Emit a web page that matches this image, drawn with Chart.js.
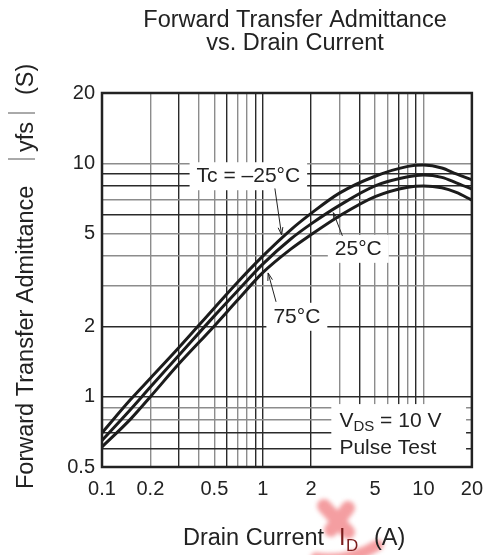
<!DOCTYPE html>
<html lang="en">
<head>
<meta charset="UTF-8">
<title>Forward Transfer Admittance vs. Drain Current</title>
<style>
  body { margin: 0; background: #fff; }
  #wrap { width: 493px; height: 555px; position: relative; }
</style>
</head>
<body>
<div id="wrap"><canvas id="chart"></canvas></div>
<script src="https://cdn.jsdelivr.net/npm/chart.js"></script>
<script>
// Drain current I_D (A) and |yfs| (S) for each case temperature
const currentA    = [0.1, 0.15, 0.2, 0.3, 0.5, 0.7, 1, 1.5, 2, 3, 5, 8, 10, 13, 16, 20];
const yfsMinus25  = [0.70, 0.97, 1.2, 1.62, 2.4, 3.1, 4.0, 5.2, 6.1, 7.45, 8.8, 9.7, 9.82, 9.55, 9.0, 8.5];
const yfs25       = [0.65, 0.88, 1.1, 1.5, 2.22, 2.85, 3.7, 4.75, 5.5, 6.6, 8.0, 8.75, 8.9, 8.7, 8.25, 7.75];
const yfs75       = [0.61, 0.80, 1.0, 1.38, 2.01, 2.6, 3.4, 4.3, 4.95, 5.95, 7.2, 7.9, 8.0, 7.85, 7.5, 6.95];

// axis grid values and which of them carry a label
const xGrid   = [0.1, 0.2, 0.3, 0.4, 0.5, 0.6, 0.7, 0.8, 0.9, 1, 2, 3, 4, 5, 6, 7, 8, 9, 10, 20];
const xLabels = [0.1, 0.2, 0.5, 1, 2, 5, 10, 20];
const yGrid   = [0.5, 0.6, 0.7, 0.8, 0.9, 1, 2, 3, 4, 5, 6, 7, 8, 9, 10, 20];
const yLabels = [0.5, 1, 2, 5, 10, 20];

// grid lines printed darker in the datasheet
const xDark = [0.3, 0.6, 0.9, 1, 2, 4, 7, 9];
const yDark = [0.6, 0.7, 1, 2, 6, 8, 9];

// curve labels: text position and arrow (data coordinates)
const curveNotes = [
    { text: 'Tc = \u201325\u00b0C', x: 0.814, y: 8.8, from: [1.19, 7.8], to: [1.31, 4.93] },
    { text: '25\u00b0C', x: 3.93, y: 4.3, from: [3.13, 4.89], to: [2.75, 6.14] },
    { text: '75\u00b0C', x: 1.63, y: 2.2, from: [1.21, 2.55], to: [1.08, 3.39] }
];

const FONT = '"Liberation Sans", Arial, Helvetica, sans-serif';
const INK = '#222';

function pts(ys) {
    return currentA.map((x, i) => ({ x: x, y: ys[i] }));
}

function arrow(ctx, x1, y1, x2, y2) {
    ctx.beginPath();
    ctx.moveTo(x1, y1);
    ctx.lineTo(x2, y2);
    ctx.stroke();
    const a = Math.atan2(y2 - y1, x2 - x1);
    const len = 8;
    ctx.beginPath();
    ctx.moveTo(x2 - len * Math.cos(a - 0.3), y2 - len * Math.sin(a - 0.3));
    ctx.lineTo(x2, y2);
    ctx.lineTo(x2 - len * Math.cos(a + 0.3), y2 - len * Math.sin(a + 0.3));
    ctx.stroke();
}

const sheetText = {
    id: 'sheetText',
    beforeDatasetsDraw(chart) {
        const { ctx, scales: { x, y }, chartArea } = chart;
        ctx.save();
        ctx.font = '21px ' + FONT;
        // white label boxes cover the grid
        ctx.fillStyle = '#fff';
        curveNotes.forEach(n => {
            const w = ctx.measureText(n.text).width;
            const cx = x.getPixelForValue(n.x), cy = y.getPixelForValue(n.y);
            ctx.fillRect(cx - w / 2 - 7, cy - 14, w + 14, 28);
        });
        const bx = x.getPixelForValue(2.67), by = y.getPixelForValue(0.93);
        ctx.fillRect(bx, by, x.getPixelForValue(18.4) - bx, chartArea.bottom - by);
        ctx.restore();
    },
    afterDatasetsDraw(chart) {
        const { ctx, scales: { x, y }, chartArea } = chart;
        ctx.save();
        ctx.fillStyle = INK;
        ctx.strokeStyle = INK;
        ctx.textBaseline = 'middle';
        ctx.textAlign = 'center';
        ctx.font = '21px ' + FONT;
        ctx.lineWidth = 1;
        curveNotes.forEach(n => {
            ctx.fillText(n.text, x.getPixelForValue(n.x), y.getPixelForValue(n.y));
            arrow(ctx, x.getPixelForValue(n.from[0]), y.getPixelForValue(n.from[1]),
                       x.getPixelForValue(n.to[0]), y.getPixelForValue(n.to[1]));
        });

        // test condition box
        ctx.textAlign = 'left';
        let tx = x.getPixelForValue(3.0), ty = y.getPixelForValue(0.787);
        ctx.fillText('V', tx, ty);
        tx += ctx.measureText('V').width;
        ctx.font = '15px ' + FONT;
        ctx.fillText('DS', tx, ty + 6);
        tx += ctx.measureText('DS').width;
        ctx.font = '21px ' + FONT;
        ctx.fillText(' = 10 V', tx, ty);
        ctx.fillText('Pulse Test', x.getPixelForValue(3.0), y.getPixelForValue(0.603));

        // frame
        ctx.lineWidth = 2.5;
        ctx.strokeRect(chartArea.left, chartArea.top, chartArea.right - chartArea.left, chartArea.bottom - chartArea.top);
        ctx.restore();
    },
    afterDraw(chart) {
        const { ctx } = chart;
        ctx.save();

        // pink stamp mark under the axis title
        ctx.save();
        ctx.filter = 'blur(2px)';
        ctx.strokeStyle = 'rgba(240, 125, 130, 0.75)';
        ctx.lineCap = 'round';
        ctx.lineWidth = 14;
        ctx.beginPath();
        ctx.moveTo(324, 506);
        ctx.lineTo(348, 532);
        ctx.moveTo(348, 508);
        ctx.lineTo(331, 530);
        ctx.stroke();
        ctx.lineWidth = 11;
        ctx.beginPath();
        ctx.moveTo(316, 558);
        ctx.quadraticCurveTo(348, 563, 378, 545);
        ctx.stroke();
        ctx.restore();

        ctx.fillStyle = INK;
        ctx.textBaseline = 'alphabetic';
        ctx.font = '23.5px ' + FONT;

        // title
        ctx.textAlign = 'center';
        ctx.fillText('Forward Transfer Admittance', 295, 27);
        ctx.fillText('vs. Drain Current', 295, 50);

        // x axis title
        ctx.textAlign = 'left';
        ctx.fillText('Drain Current', 183, 545);
        ctx.fillText('(A)', 374, 545);
        ctx.fillStyle = '#7a1c1c';
        ctx.fillText('I', 339, 545);
        ctx.font = '17px ' + FONT;
        ctx.fillText('D', 346, 551);
        ctx.fillStyle = INK;
        ctx.font = '23.5px ' + FONT;

        // y axis title, rotated
        ctx.translate(33, 0);
        ctx.rotate(-Math.PI / 2);
        ctx.fillText('Forward Transfer Admittance', -489, 0);
        ctx.fillText('yfs', -152, 0);
        ctx.fillText('(S)', -95, 0);
        ctx.strokeStyle = '#555';
        ctx.lineWidth = 1;
        [-159, -113].forEach(p => {
            ctx.beginPath();
            ctx.moveTo(p, -25);
            ctx.lineTo(p, 2);
            ctx.stroke();
        });
        ctx.restore();
    }
};

const tickFont = { family: FONT, size: 20 };

new Chart(document.getElementById('chart'), {
    type: 'line',
    data: {
        datasets: [
            { label: 'Tc = -25°C', data: pts(yfsMinus25) },
            { label: '25°C', data: pts(yfs25) },
            { label: '75°C', data: pts(yfs75) }
        ]
    },
    options: {
        responsive: true,
        maintainAspectRatio: false,
        animation: false,
        layout: { padding: { top: 93, right: 17, left: 0, bottom: 0 } },
        plugins: { legend: { display: false }, tooltip: { enabled: false } },
        elements: {
            point: { radius: 0 },
            line: { borderWidth: 3, borderColor: '#1c1c1c', cubicInterpolationMode: 'monotone', fill: false }
        },
        scales: {
            x: {
                type: 'logarithmic',
                min: 0.1,
                max: 20,
                afterBuildTicks: s => { s.ticks = xGrid.map(v => ({ value: v })); },
                afterFit: s => { s.height = 88; },
                border: { display: false },
                grid: {
                    drawTicks: false,
                    lineWidth: 1.4,
                    color: c => xDark.includes(c.tick.value) ? '#2a2a2a' : '#8c8c8c'
                },
                ticks: {
                    autoSkip: false,
                    maxRotation: 0,
                    padding: 10,
                    color: INK,
                    font: tickFont,
                    callback: v => xLabels.includes(v) ? String(v) : ''
                }
            },
            y: {
                type: 'logarithmic',
                min: 0.5,
                max: 20,
                afterBuildTicks: s => { s.ticks = yGrid.map(v => ({ value: v })); },
                afterFit: s => { s.width = 102; },
                border: { display: false },
                grid: {
                    drawTicks: false,
                    lineWidth: 1.4,
                    color: c => yDark.includes(c.tick.value) ? '#2a2a2a' : '#8c8c8c'
                },
                ticks: {
                    autoSkip: false,
                    padding: 7,
                    color: INK,
                    font: tickFont,
                    callback: v => yLabels.includes(v) ? String(v) : ''
                }
            }
        }
    },
    plugins: [sheetText]
});
</script>
</body>
</html>
